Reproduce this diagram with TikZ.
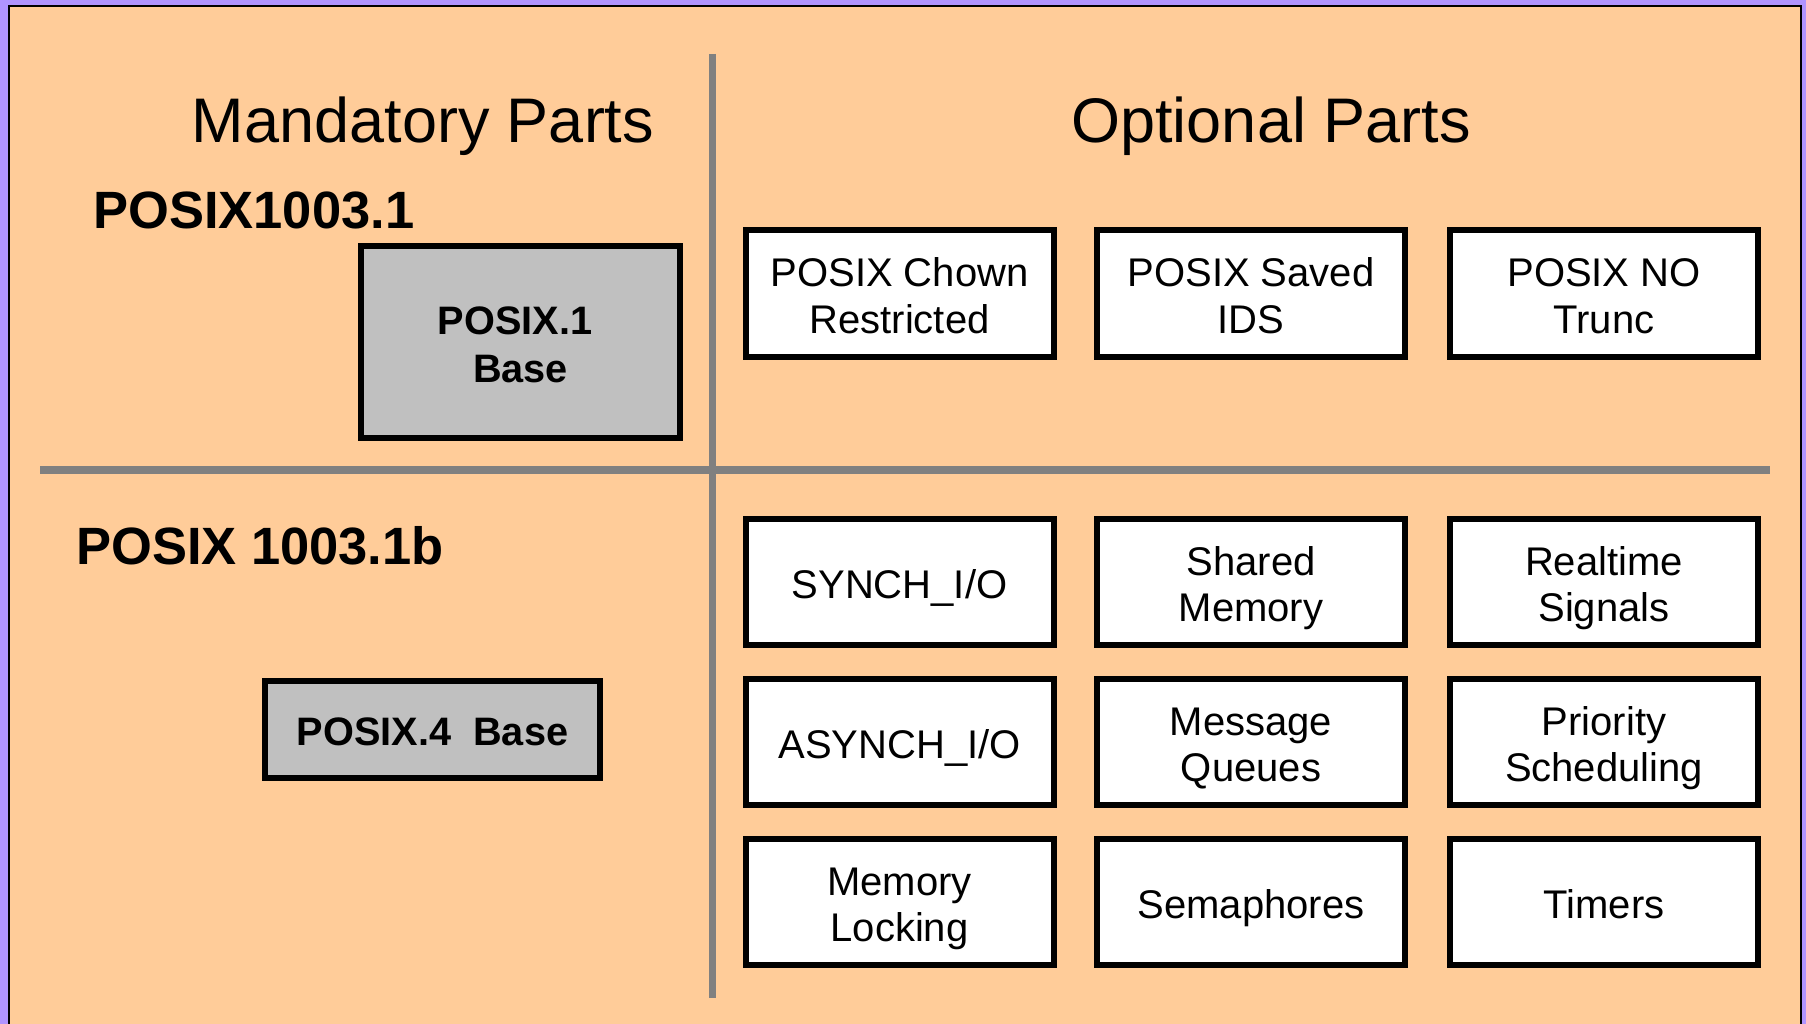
\documentclass[tikz,border=0pt]{standalone}
\usepackage{fontspec}
\setmainfont{Liberation Sans}
\definecolor{bgpurple}{RGB}{176,148,255}
\definecolor{peach}{RGB}{255,204,153}
\definecolor{boxgray}{RGB}{192,192,192}
\definecolor{linegray}{RGB}{128,128,128}
\begin{document}
\begin{tikzpicture}[x=1pt,y=-1pt,
  optbox/.style={draw=black, line width=6pt, fill=white, rectangle,
    minimum width=308pt, minimum height=126pt, inner sep=0pt, align=center,
    font=\fontsize{40}{46.5}\selectfont, text height=41pt, text depth=9pt},
  twoline/.style={text height=88.7pt, text depth=9pt},
  basebox/.style={draw=black, line width=6pt, fill=boxgray, rectangle,
    inner sep=0pt, align=center, font=\fontsize{39.7}{48}\selectfont\bfseries,
    text height=41pt, text depth=9pt},
  title/.style={inner sep=0pt, anchor=base, font=\fontsize{63}{70}\selectfont},
  std/.style={inner sep=0pt, anchor=base west, font=\fontsize{52.5}{60}\selectfont\bfseries},
  divider/.style={draw=linegray, line width=7.5pt}
]
\useasboundingbox (0,0) rectangle (1806,1024);
\fill[bgpurple] (0,0) rectangle (1806,1024);
\fill[peach] (9,6) rectangle (1801,1030);
\draw[black, line width=2.5pt] (9,1030) -- (9,6) -- (1801,6) -- (1801,1030);

% dividers
\coordinate (vtop) at (712.5,54);
\coordinate (vbot) at (712.5,998);
\coordinate (hleft) at (40,470);
\coordinate (hright) at (1770,470);
\draw[divider] (vtop) -- (vbot);
\draw[divider] (hleft) -- (hright);

% titles
\node[title] (mand) at (423,143) {Mandatory Parts};
\node[title] (opt) at (1271,143) {Optional Parts};
\node[std] (p1) at (93,229) {POSIX1003.1};
\node[std] (p1b) at (76,564) {POSIX 1003.1b};

% base boxes
\node[basebox, minimum width=319pt, minimum height=192pt, text height=90pt] (base1) at (520.5,342) {POSIX.1\rule{0.278em}{0pt}\\Base};
\node[basebox, minimum width=335pt, minimum height=97pt] (base4) at (432.5,729.5) {POSIX.4\ \ Base};

% optional boxes
\node[optbox, twoline] (chown) at (899.5,293.5) {POSIX Chown\\Restricted};
\node[optbox, twoline] (saved) at (1251,293.5) {POSIX Saved\\IDS};
\node[optbox, twoline] (notrunc) at (1604,293.5) {POSIX NO\\Trunc};

\node[optbox] (synch) at (899.5,582) {SYNCH\_I/O};
\node[optbox, twoline] (shm) at (1251,582) {Shared\\Memory};
\node[optbox, twoline] (rts) at (1604,582) {Realtime\\Signals};

\node[optbox] (asynch) at (899.5,742) {ASYNCH\_I/O};
\node[optbox, twoline] (mq) at (1251,742) {Message\\Queues};
\node[optbox, twoline] (prio) at (1604,742) {Priority\\Scheduling};

\node[optbox, twoline] (mlock) at (899.5,902) {Memory\\Locking};
\node[optbox] (sem) at (1251,902) {Semaphores};
\node[optbox] (timers) at (1604,902) {Timers};
\end{tikzpicture}
\end{document}
